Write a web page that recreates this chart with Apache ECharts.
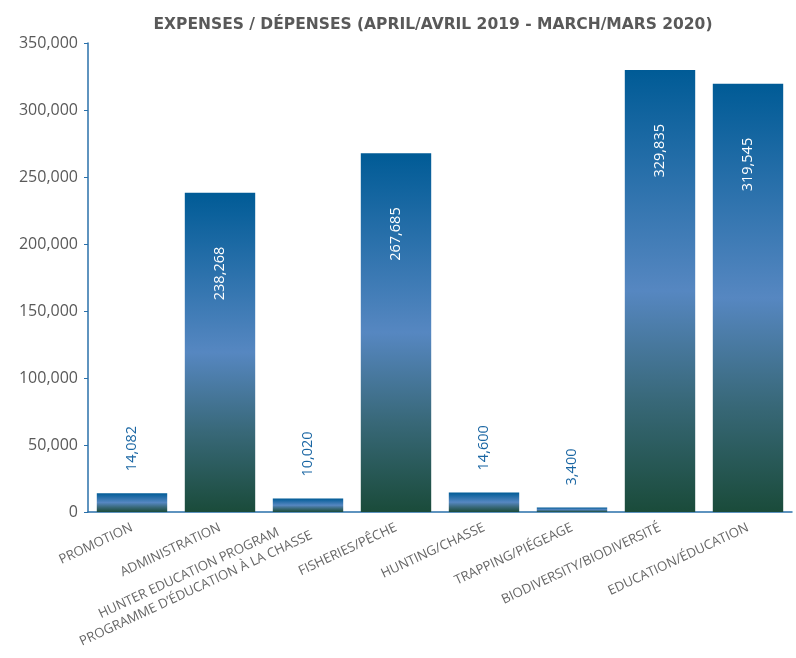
<!DOCTYPE html>
<html>
<head>
<meta charset="utf-8">
<script src="https://cdn.jsdelivr.net/npm/echarts@6/dist/echarts.min.js"></script>
<style>
html,body{margin:0;padding:0;background:#fff;}
#c{width:796px;height:658px;}
</style>
</head>
<body>
<div id="c"></div>
<script>
const title = 'EXPENSES / DÉPENSES (APRIL/AVRIL 2019 - MARCH/MARS 2020)';
const categories = [
  'PROMOTION',
  'ADMINISTRATION',
  'HUNTER EDUCATION PROGRAM\nPROGRAMME D\u2019ÉDUCATION À LA CHASSE',
  'FISHERIES/PÊCHE',
  'HUNTING/CHASSE',
  'TRAPPING/PIÉGEAGE',
  'BIODIVERSITY/BIODIVERSITÉ',
  'EDUCATION/ÉDUCATION'
];
const values = [14082, 238268, 10020, 267685, 14600, 3400, 329835, 319545];
const yMin = 0, yMax = 350000, yInterval = 50000;

const fmt = v => v.toLocaleString('en-US');

const gradient = new echarts.graphic.LinearGradient(0, 0, 0, 1, [
  {offset: 0, color: '#005b96'},
  {offset: 0.5, color: '#5687c1'},
  {offset: 0.75, color: '#386878'},
  {offset: 1, color: '#1a4b3a'}
]);

const barData = values.map(v => {
  const inside = v > 100000;
  return {
    value: v,
    label: inside ? {
      position: 'insideTop', distance: 54, rotate: 90,
      align: 'right', verticalAlign: 'middle', color: '#ffffff'
    } : {
      position: 'top', distance: 22, rotate: 90,
      align: 'left', verticalAlign: 'middle', color: '#1a66a3'
    }
  };
});

const chart = echarts.init(document.getElementById('c'));
chart.setOption({
  backgroundColor: '#ffffff',
  animation: false,
  title: {
    text: title,
    left: 428, top: 12, textAlign: 'center',
    textStyle: {fontFamily: 'DejaVu Sans', fontWeight: 'bold', fontSize: 15.5, color: '#595959'}
  },
  grid: {left: 88, right: 4, top: 43, bottom: 146},
  xAxis: {
    type: 'category',
    data: categories,
    axisLine: {lineStyle: {color: '#2a70aa', width: 1.5}},
    axisTick: {show: false},
    axisLabel: {
      interval: 0, rotate: 25, margin: 15,
      fontFamily: 'Open Sans', fontSize: 13.2, color: '#666666',
      lineHeight: 17,
      formatter: v => {
        if (v.indexOf('\n') >= 0) {
          const p = v.split('\n');
          return '{c|' + p[0] + '}\n{c|' + p[1] + '}';
        }
        return v;
      },
      rich: {c: {align: 'center', fontFamily: 'Open Sans', fontSize: 13.2, color: '#666666', lineHeight: 17}}
    }
  },
  yAxis: {
    type: 'value',
    min: yMin, max: yMax, interval: yInterval,
    axisLine: {show: true, lineStyle: {color: '#2a70aa', width: 1.5}},
    axisTick: {show: true, length: 4, lineStyle: {color: '#2a70aa'}},
    splitLine: {show: false},
    axisLabel: {
      margin: 10,
      fontFamily: 'Open Sans', fontSize: 16, color: '#595959',
      formatter: v => fmt(v)
    }
  },
  series: [{
    type: 'bar',
    data: barData,
    barCategoryGap: '20%',
    itemStyle: {color: gradient},
    label: {
      show: true,
      fontFamily: 'Open Sans', fontSize: 14.5,
      formatter: p => fmt(p.value)
    }
  }]
});
</script>
</body>
</html>
